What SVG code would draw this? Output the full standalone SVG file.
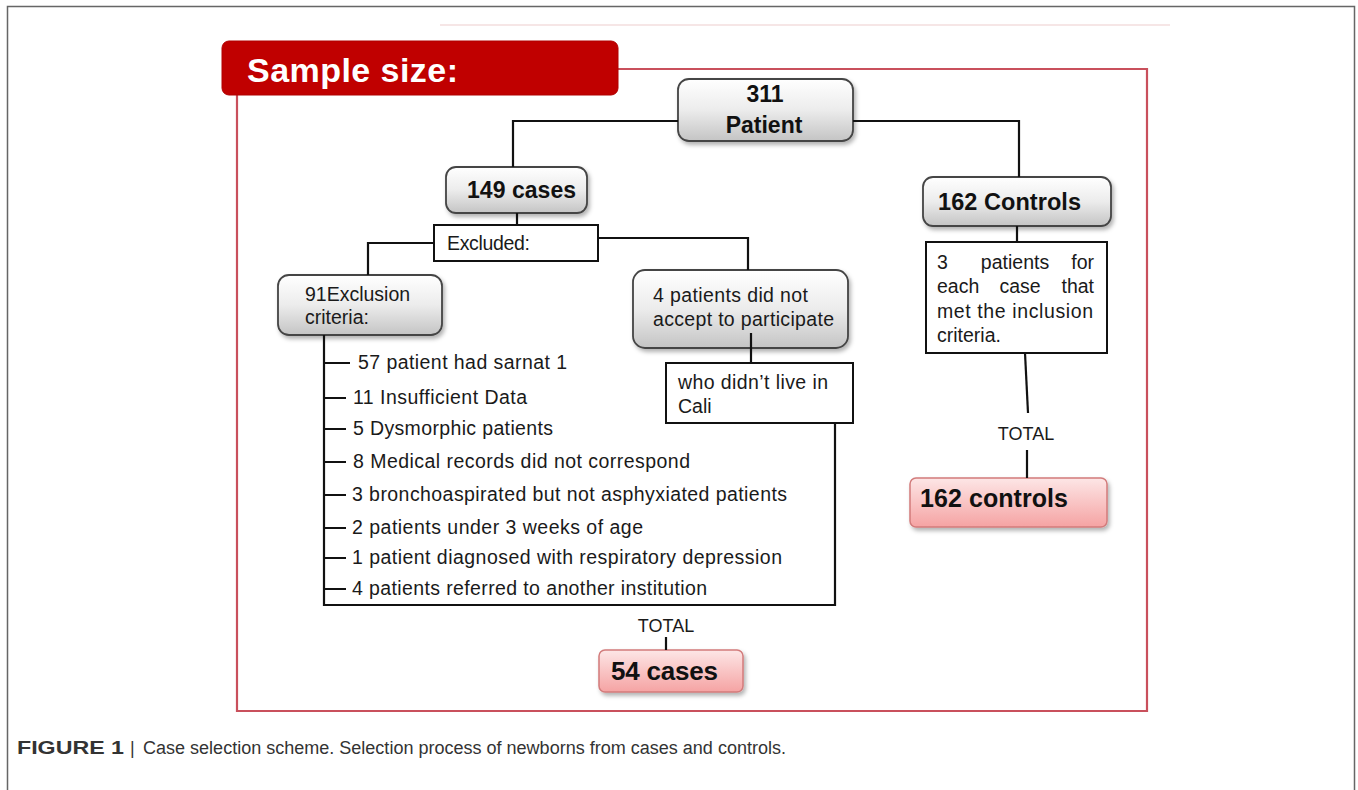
<svg xmlns="http://www.w3.org/2000/svg" width="1358" height="790" viewBox="0 0 1358 790">
<defs>
<linearGradient id="gGrey" x1="0" y1="0" x2="0" y2="1">
<stop offset="0" stop-color="#ffffff"/>
<stop offset="0.5" stop-color="#ececec"/>
<stop offset="1" stop-color="#c4c4c4"/>
</linearGradient>
<linearGradient id="gPink" x1="0" y1="0" x2="0" y2="1">
<stop offset="0" stop-color="#fde6e6"/>
<stop offset="1" stop-color="#f5a3a3"/>
</linearGradient>
<filter id="sh" x="-10%" y="-10%" width="130%" height="140%">
<feDropShadow dx="2" dy="3" stdDeviation="2" flood-color="#000" flood-opacity="0.3"/>
</filter>
<style>
.t{font-family:"Liberation Sans",Arial,sans-serif;fill:#1a1a1a;font-size:19.5px}
.b{font-family:"Liberation Sans",Arial,sans-serif;fill:#111;font-weight:bold}
.grey{fill:url(#gGrey);stroke:#444;stroke-width:1.8}
.pink{fill:url(#gPink);stroke:#d27b7b;stroke-width:1.5}
.plain{fill:#fff;stroke:#111;stroke-width:2}
.c{fill:none;stroke:#111;stroke-width:2.2}
.tot{font-family:"Liberation Sans",Arial,sans-serif;fill:#1a1a1a;font-size:18px}
.cap{font-family:"Liberation Sans",Arial,sans-serif;fill:#333}
</style>
</defs>
<rect width="1358" height="790" fill="#fff"/>
<rect x="7.5" y="6.5" width="1347" height="820" fill="none" stroke="#666" stroke-width="1.5"/>
<line x1="440" y1="25" x2="1170" y2="25" stroke="#f3dede" stroke-width="1.5"/>
<g id="frame">
<path d="M618,69 H1147 V711 H237 V95" fill="none" stroke="#c9505c" stroke-width="2.2"/>
<rect x="222" y="41" width="396" height="54" rx="7" fill="#c00000" stroke="#b00000"/>
<text x="247" y="82" font-family="'Liberation Sans',Arial,sans-serif" font-weight="bold" font-size="34" fill="#fff" textLength="211">Sample size:</text>
</g>
<g id="n311">
<rect class="grey" x="678" y="79" width="175" height="62" rx="11" filter="url(#sh)"/>
<text class="b" font-size="23" x="765" y="102" text-anchor="middle">311</text>
<text class="b" font-size="23" x="764" y="133" text-anchor="middle">Patient</text>
</g>
<g id="n149">
<rect class="grey" x="446" y="167" width="141" height="46" rx="10" filter="url(#sh)"/>
<text class="b" font-size="23" x="467" y="198" textLength="109">149 cases</text>
</g>
<g id="nControls">
<rect class="grey" x="923" y="177" width="188" height="49" rx="10" filter="url(#sh)"/>
<text class="b" font-size="23.5" x="938" y="210" textLength="143">162 Controls</text>
</g>
<g id="nExcluded">
<rect class="plain" x="434" y="225" width="164" height="36"/>
<text class="t" x="447" y="250" textLength="83">Excluded:</text>
</g>
<g id="nExclusion">
<rect class="grey" x="278" y="275" width="164" height="60" rx="11" filter="url(#sh)"/>
<text class="t" x="305" y="301">91Exclusion</text>
<text class="t" x="305" y="324">criteria:</text>
</g>
<g id="nNotAccept">
<rect class="grey" x="633" y="270" width="215" height="78" rx="12" filter="url(#sh)"/>
<text class="t" x="653" y="302" textLength="155">4 patients  did not</text>
<text class="t" x="653" y="326" textLength="181">accept to participate</text>
</g>
<g id="nCali">
<rect class="plain" x="666" y="363" width="187" height="60"/>
<text class="t" x="678" y="389" textLength="150">who didn’t live in</text>
<text class="t" x="678" y="413">Cali</text>
</g>
<g id="nRule">
<rect class="plain" x="926" y="242" width="181" height="111"/>
<text class="t" x="937" y="269">3</text>
<text class="t" x="1015" y="269" text-anchor="middle">patients</text>
<text class="t" x="1094" y="269" text-anchor="end">for</text>
<text class="t" x="937" y="293">each</text>
<text class="t" x="1020" y="293" text-anchor="middle">case</text>
<text class="t" x="1094" y="293" text-anchor="end">that</text>
<text class="t" x="937" y="318" textLength="156">met the inclusion</text>
<text class="t" x="937" y="342">criteria.</text>
</g>
<g id="nList">
<text class="t" x="358" y="369" textLength="209">57 patient had sarnat 1</text>
<text class="t" x="353" y="404" textLength="174">11 Insufficient Data</text>
<text class="t" x="353" y="435" textLength="200">5 Dysmorphic patients</text>
<text class="t" x="353" y="468" textLength="337">8 Medical records did not correspond</text>
<text class="t" x="352" y="501" textLength="435">3 bronchoaspirated but not asphyxiated patients</text>
<text class="t" x="352" y="534" textLength="291">2 patients under 3 weeks of age</text>
<text class="t" x="352" y="564" textLength="430">1 patient diagnosed with respiratory depression</text>
<text class="t" x="352" y="595" textLength="355">4 patients referred to another institution</text>
</g>
<g id="nCases">
<rect class="pink" x="599" y="650" width="144" height="42" rx="6" filter="url(#sh)"/>
<text class="b" font-size="26" x="611" y="680" textLength="107">54 cases</text>
</g>
<g id="nControlsTotal">
<rect class="pink" x="910" y="478" width="197" height="49" rx="6" filter="url(#sh)"/>
<text class="b" font-size="25" x="920" y="507" textLength="148">162 controls</text>
</g>
<text class="tot" x="666" y="632" text-anchor="middle">TOTAL</text>
<text class="tot" x="1026" y="440" text-anchor="middle">TOTAL</text>
<g id="connectors">
<path class="c" d="M678,121 H513 V167"/>
<path class="c" d="M853,121 H1019 V177"/>
<path class="c" d="M517,213 V225"/>
<path class="c" d="M434,243 H368 V275"/>
<path class="c" d="M598,238 H748 V270"/>
<path class="c" d="M751,333 V363"/>
<path class="c" d="M835,423 V605 H324 V335"/>
<path class="c" d="M324,363 H350 M324,398 H346 M324,429 H346 M324,462 H346 M324,495 H346 M324,528 H346 M324,558 H346 M324,589 H346"/>
<path class="c" d="M666,637 V650"/>
<path class="c" d="M1017,226 V242"/>
<path class="c" d="M1025,353 L1028,413"/>
<path class="c" d="M1027,450 V478"/>
</g>
<g id="caption">
<text class="cap" x="17" y="754" font-size="18" font-weight="bold" textLength="107" lengthAdjust="spacingAndGlyphs">FIGURE 1</text>
<text class="cap" x="130" y="754" font-size="18">|</text>
<text class="cap" x="143" y="754" font-size="18" textLength="643" lengthAdjust="spacingAndGlyphs">Case selection scheme. Selection process of newborns from cases and controls.</text>
</g>
</svg>
